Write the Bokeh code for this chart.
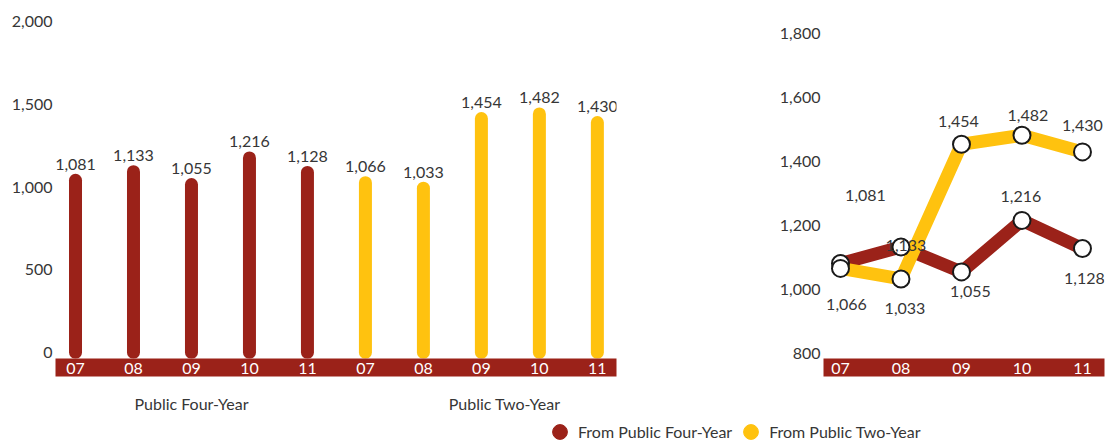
from bokeh.plotting import figure
from bokeh.models import (Range1d, FixedTicker, NumeralTickFormatter, LinearAxis,
                          CustomJSTickFormatter, ColumnDataSource, Legend, LegendItem, LabelSet)
from bokeh.layouts import row, column
from bokeh.embed import file_html
from bokeh.resources import INLINE
from bokeh.core.properties import value

# ---------------- data ----------------
years = ["07", "08", "09", "10", "11"]
groups = ["Public Four-Year", "Public Two-Year"]
series_names = ["From Public Four-Year", "From Public Two-Year"]
four_year = [1081, 1133, 1055, 1216, 1128]
two_year = [1066, 1033, 1454, 1482, 1430]
left_ticks = [0, 500, 1000, 1500, 2000]
right_ticks = [800, 1000, 1200, 1400, 1600, 1800]

# ---------------- styles ----------------
RED = "#9B2219"
YEL = "#FFC20F"
TXT = "#363636"
FONT = "Lato"
FS = "16px"
BAR_W = 13
# label offsets (px) for the line chart labels
red_dx = [25, 5, 9, -1, 2]
red_dy = [-68, -1, 20, -24, 30]
yel_dx = [6, 4, -3, 6, 0]
yel_dy = [36, 30, -23, -20, -26]

W1, W2, H, HL = 760, 349, 421, 20
TOP, BOT = 13, 63


def clean(p):
    p.outline_line_color = None
    p.grid.visible = False
    p.background_fill_color = "white"
    p.border_fill_color = "white"


def y_axis(ticks, standoff):
    return LinearAxis(ticker=FixedTicker(ticks=ticks),
                      formatter=NumeralTickFormatter(format="0,0"),
                      axis_line_color=None, major_tick_line_color=None,
                      minor_tick_line_color=None, major_tick_out=0, major_tick_in=0,
                      minor_tick_out=0, minor_tick_in=0,
                      major_label_standoff=standoff,
                      major_label_text_font=FONT, major_label_text_font_size=FS,
                      major_label_text_color=TXT)


def year_axis(n):
    return LinearAxis(ticker=FixedTicker(ticks=list(range(n))),
                      formatter=CustomJSTickFormatter(args=dict(labels=years),
                                                      code="return labels[Math.round(tick) % labels.length];"),
                      axis_line_color=None, major_tick_line_color=None,
                      minor_tick_line_color=None, major_tick_out=0, major_tick_in=0,
                      minor_tick_out=0, minor_tick_in=0,
                      major_label_standoff=4,
                      major_label_text_font=FONT, major_label_text_font_size=FS,
                      major_label_text_color="white",
                      background_fill_color=RED)


# ---------------- left: bars ----------------
y1s, y1e = -36.3, 2050
p1 = figure(width=W1, height=H, output_backend="svg", toolbar_location=None,
            x_range=Range1d(-0.345, 9.33), y_range=Range1d(y1s, y1e),
            min_border_left=55, min_border_right=144, min_border_top=TOP, min_border_bottom=BOT,
            x_axis_location=None, y_axis_location=None)
clean(p1)
frame_h = H - TOP - BOT
hw_units = (BAR_W / 2) * (y1e - y1s) / frame_h

vals = four_year + two_year
src1 = ColumnDataSource(dict(
    x=list(range(len(vals))),
    v=vals,
    top=[v - hw_units for v in vals],
    base=[0] * len(vals),
    color=[RED] * len(four_year) + [YEL] * len(two_year),
    label=[f"{v:,}" for v in vals],
))
p1.segment(x0="x", y0="base", x1="x", y1="top", source=src1, line_color="color",
           line_width=BAR_W, line_cap="round")
p1.add_layout(LabelSet(x="x", y="v", text="label", source=src1, text_align="center",
                       text_baseline="bottom", y_offset=4, text_font=value(FONT),
                       text_font_size=value(FS), text_color=TXT))

p1.add_layout(y_axis(left_ticks, 3), "left")
p1.add_layout(year_axis(len(vals)), "below")
gax = LinearAxis(ticker=FixedTicker(ticks=[(len(four_year) - 1) / 2, len(four_year) + (len(two_year) - 1) / 2 + 0.4]),
                 formatter=CustomJSTickFormatter(args=dict(labels=groups),
                                                 code="return tick < 5 ? labels[0] : labels[1];"),
                 axis_line_color=None, major_tick_line_color=None, minor_tick_line_color=None,
                 major_tick_out=0, major_tick_in=0, minor_tick_out=0, minor_tick_in=0,
                 major_label_standoff=17,
                 major_label_text_font=FONT, major_label_text_font_size=FS,
                 major_label_text_color=TXT)
p1.add_layout(gax, "below")

# ---------------- right: lines ----------------
p2 = figure(width=W2, height=H, output_backend="svg", toolbar_location=None,
            x_range=Range1d(-0.281, 4.364), y_range=Range1d(784.4, 1862.5),
            min_border_left=63, min_border_right=5, min_border_top=TOP, min_border_bottom=BOT,
            x_axis_location=None, y_axis_location=None)
clean(p2)
xs = list(range(len(years)))
src_r = ColumnDataSource(dict(x=xs, y=four_year, label=[f"{v:,}" for v in four_year], dx=red_dx, dy=[-d for d in red_dy]))
src_y = ColumnDataSource(dict(x=xs, y=two_year, label=[f"{v:,}" for v in two_year], dx=yel_dx, dy=[-d for d in yel_dy]))
p2.line(x="x", y="y", source=src_r, line_color=RED, line_width=BAR_W)
p2.line(x="x", y="y", source=src_y, line_color=YEL, line_width=BAR_W)
for s in (src_r, src_y):
    p2.scatter(x="x", y="y", source=s, marker="circle", size=17, fill_color="white",
               line_color="#1a1a1a", line_width=2)
for s in (src_y, src_r):
    p2.add_layout(LabelSet(x="x", y="y", text="label", source=s, x_offset="dx", y_offset="dy",
                           text_align="center", text_baseline="middle",
                           text_font=value(FONT), text_font_size=value(FS), text_color=TXT))
p2.add_layout(y_axis(right_ticks, 3), "left")
p2.add_layout(year_axis(len(years)), "below")

# ---------------- legend strip ----------------
lf = figure(width=W1 + W2, height=HL, output_backend="svg", toolbar_location=None,
            x_range=Range1d(0, 1), y_range=Range1d(0, 1), min_border=0,
            x_axis_location=None, y_axis_location=None)
clean(lf)
# legend proxies: one point each, kept outside the visible range
r1 = lf.scatter(x=[-5], y=[-5], marker="circle", size=15, fill_color=RED, line_color=RED)
r2 = lf.scatter(x=[-5], y=[-5], marker="circle", size=15, fill_color=YEL, line_color=YEL)
leg = Legend(items=[LegendItem(label=series_names[0], renderers=[r1]),
                    LegendItem(label=series_names[1], renderers=[r2])],
             orientation="horizontal", location=(541, -9),
             glyph_width=37, glyph_height=37, label_standoff=0, spacing=0,
             padding=0, margin=0, border_line_color=None, background_fill_alpha=0,
             label_text_font=FONT, label_text_font_size=FS, label_text_color=TXT)
lf.add_layout(leg)

layout = column(row(p1, p2), lf)
open("out.html", "w").write(file_html(layout, INLINE))
